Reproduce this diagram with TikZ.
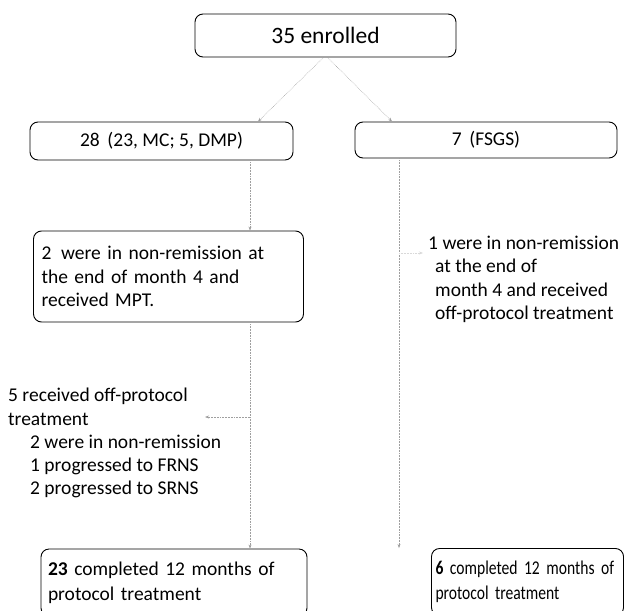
\documentclass[tikz,border=0pt]{standalone}
\usepackage{fontspec}
\setmainfont{Carlito}
\newfontfamily\narrowfont[FakeStretch=0.8]{Carlito}
\usetikzlibrary{arrows.meta,calc}
\begin{document}
\begin{tikzpicture}[x=1pt,y=-1pt,
  box/.style={draw=black,line width=0.9pt,rounded corners=8pt,inner sep=0pt},
  txt/.style={font=\fontsize{19.5}{23.3}\selectfont,align=left,inner sep=0pt},
  conn/.style={draw=gray!75,line width=0.55pt,densely dotted,-{Stealth[length=4pt,width=3pt]}},
]
\useasboundingbox (0,0) rectangle (628,610);
\clip (0,0) rectangle (628,610);
% boxes
\node[box,minimum width=261pt,minimum height=43pt,font=\fontsize{23.5}{26}\selectfont] (top) at (325.5,35.5) {35 enrolled};
\node[box,minimum width=263pt,minimum height=38pt,font=\fontsize{19.5}{23}\selectfont] (b28) at (161.5,141) {28 \,(23, MC; 5, DMP)};
\node[box,minimum width=262pt,minimum height=36pt,font=\fontsize{19.5}{23}\selectfont] (b7) at (486,140) {7 \,(FSGS)};
\node[box,minimum width=267pt,minimum height=91pt,txt,text width=254pt,inner xsep=8pt] (b2) at (168.5,276.5)
  {2 \,were in non-remission at\\ the end of month 4 and\\ received MPT.};
\node[box,minimum width=262pt,minimum height=67pt,txt,font=\fontsize{19.5}{25}\selectfont,text width=252pt,inner xsep=7pt] (b23) at (174,582.5)
  {\textbf{23} completed 12 months of\\ protocol treatment};
\node[box,minimum width=191pt,minimum height=67pt,txt,font=\narrowfont\fontsize{19.5}{25}\selectfont,text width=184pt,inner xsep=4pt] (b6) at (527.5,582)
  {\textbf{6} completed 12 months of\\ protocol treatment};
% free texts
\node[txt,anchor=north west] (offp) at (8,388)
  {5 received off-protocol\\ treatment\\ \hspace*{22pt}2 were in non-remission\\ \hspace*{22pt}1 progressed to FRNS\\ \hspace*{22pt}2 progressed to SRNS};
\node[txt,anchor=north west] (rt) at (435,236)
  {\hspace*{-7pt}1 were in non-remission\\ at the end of\\ month 4 and received\\ off-protocol treatment};
% connectors
\draw[conn] ([xshift=-2pt]top.south) -- ([xshift=96.5pt]b28.north);
\draw[conn] ([xshift=2pt]top.south) -- ([xshift=-94pt]b7.north);
\draw[conn] ([xshift=88.5pt]b28.south) coordinate (l1) -- (l1 |- b2.north);
\draw[conn] ([xshift=81.5pt]b2.south) coordinate (l2) -- (l2 |- b23.north);
\coordinate (hs) at (l2 |- 0,417);
\coordinate (he) at (205,417);
\draw[conn] (hs) -- (he);
\draw[conn] ([xshift=-87pt]b7.south) coordinate (r1) -- (r1 |- b6.north);
\coordinate (rs) at (r1 |- 0,253);
\draw[conn,draw=gray!30] (rs) -- ([xshift=-12pt]rs -| rt.west);
\end{tikzpicture}
\end{document}
